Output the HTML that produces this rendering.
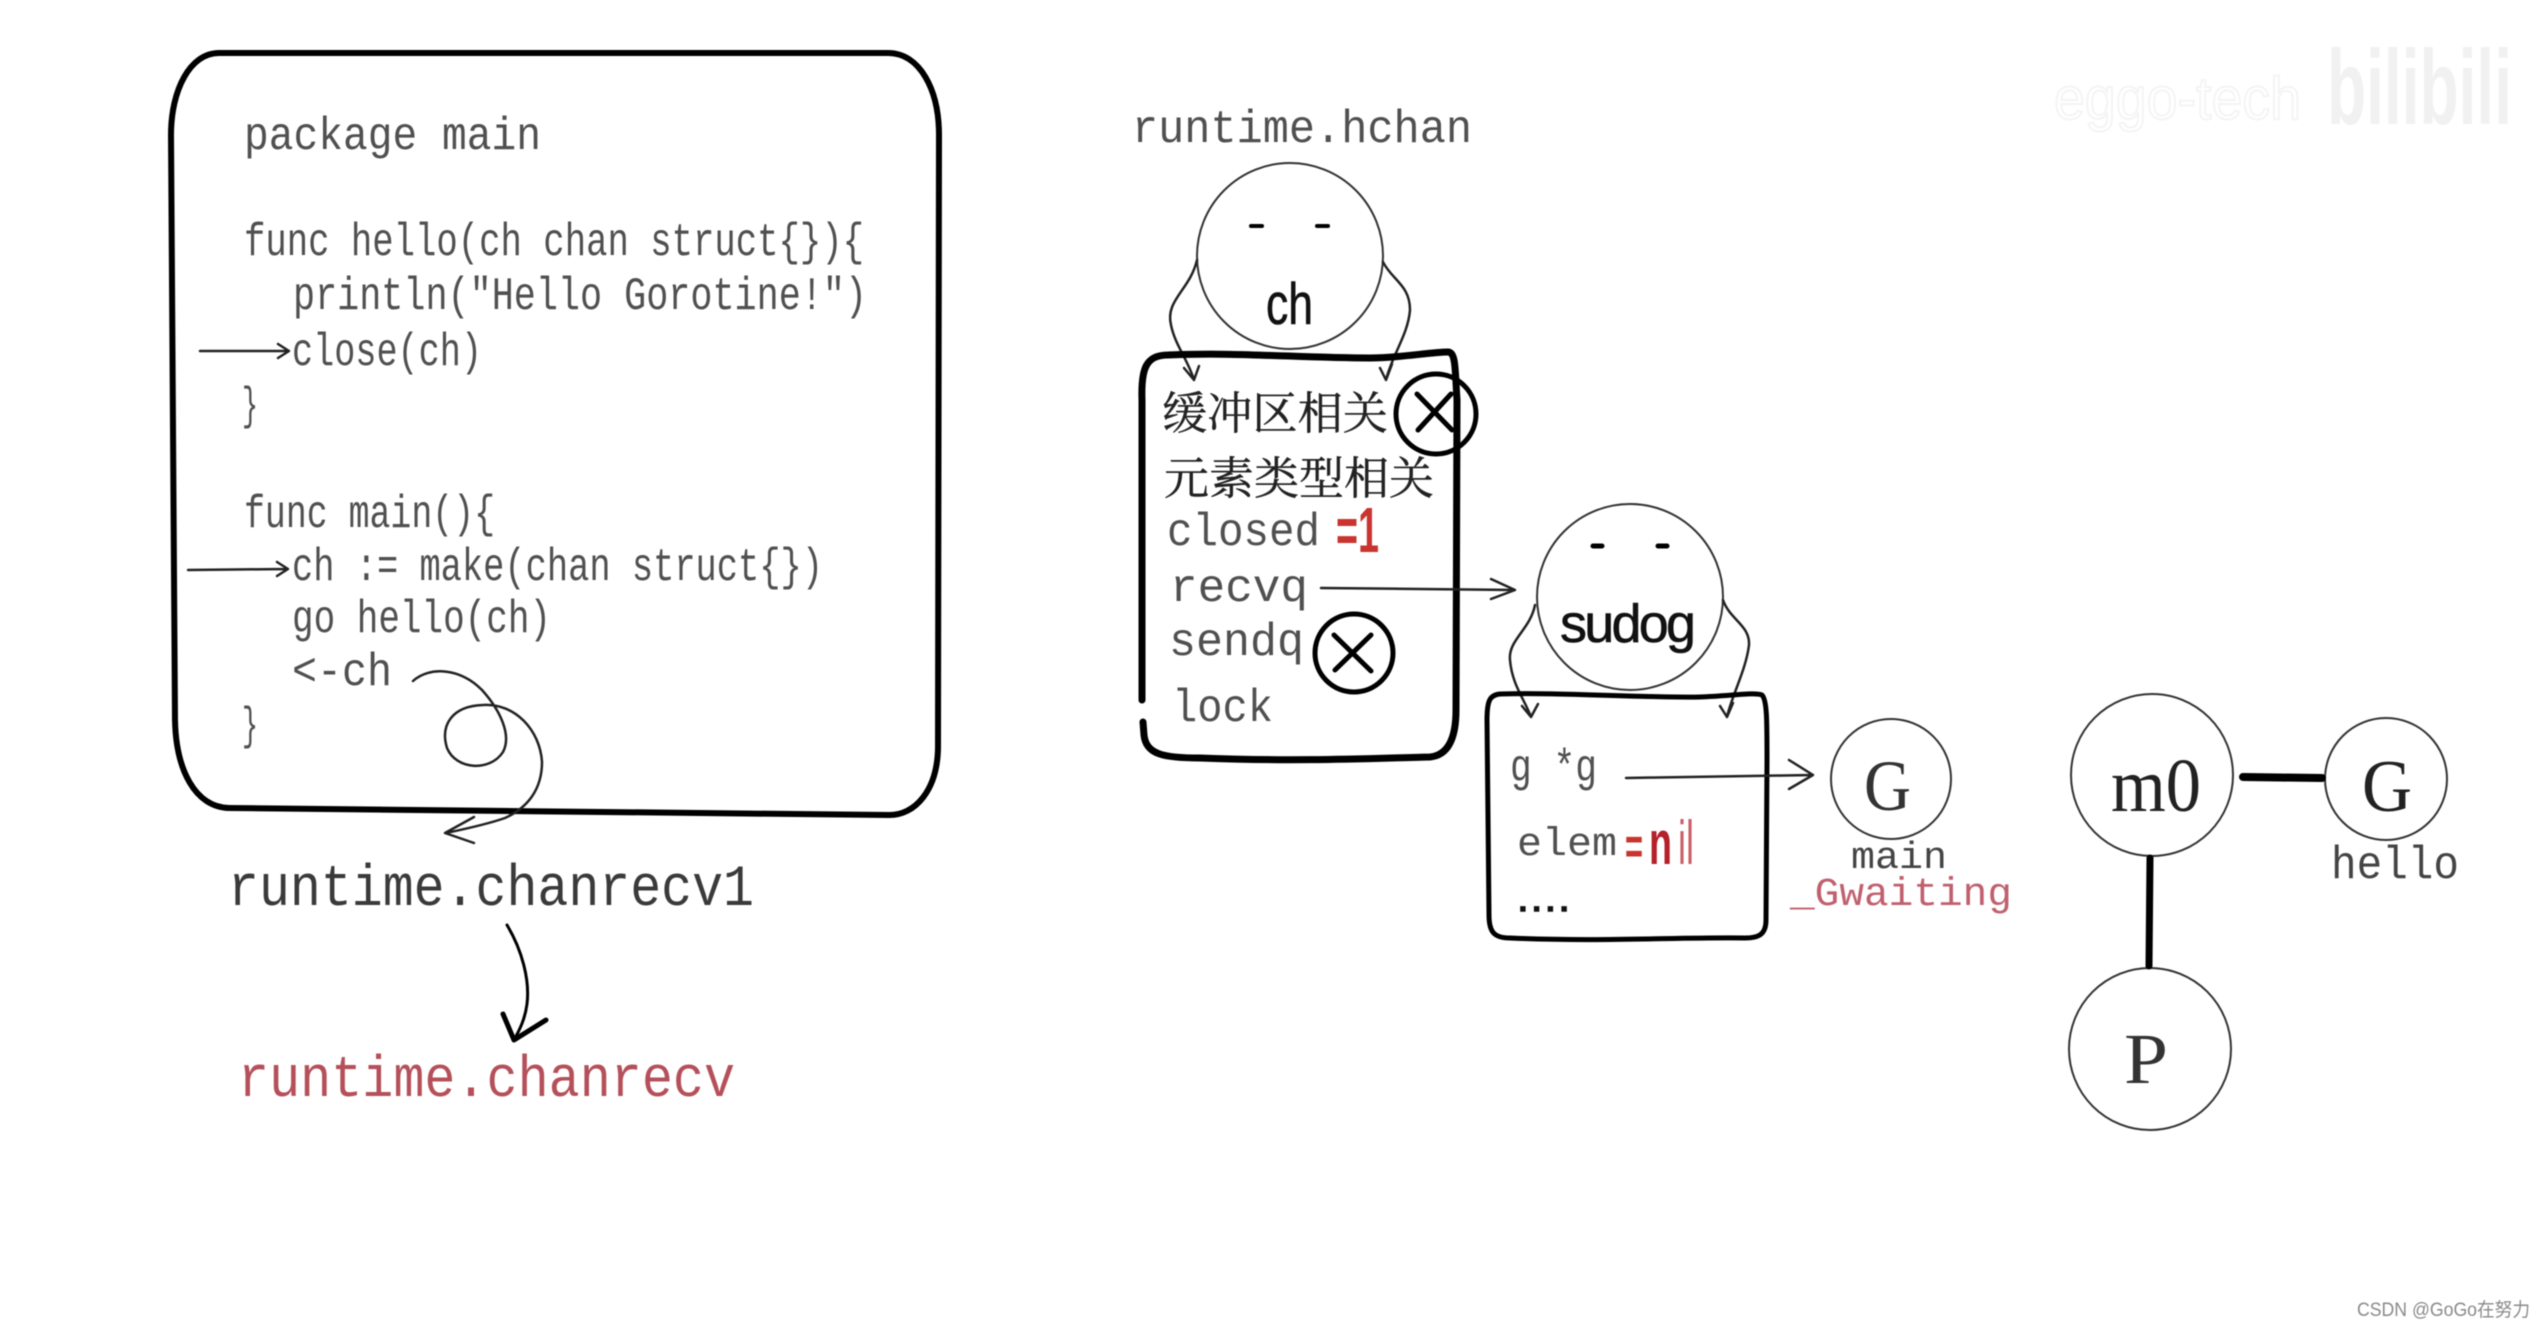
<!DOCTYPE html>
<html><head><meta charset="utf-8">
<style>
html,body{margin:0;padding:0;background:#fff;width:2543px;height:1328px;overflow:hidden}
svg{display:block;filter:blur(.5px)}
.m{font-family:"Liberation Mono",monospace;font-size:46px;fill:#505050}
.b{font-family:"Liberation Mono",monospace;font-size:58px;fill:#3a3a3a}
.s{font-family:"Liberation Sans",sans-serif;font-size:58px;fill:#111;stroke:#111;stroke-width:.6}
.c{font-family:"Liberation Serif","Noto Serif CJK SC",serif;font-size:45px;fill:#222;stroke:#222;stroke-width:.4}
.l{fill:none;stroke:#222;stroke-width:2.5;stroke-linecap:round;stroke-linejoin:round}
.k{fill:none;stroke:#000;stroke-linecap:round;stroke-linejoin:round}
</style></head><body>
<svg width="2543" height="1328" viewBox="0 0 2543 1328" xmlns="http://www.w3.org/2000/svg">
<rect width="2543" height="1328" fill="#fff"/>

<!-- watermark -->
<text x="2054" y="119" textLength="247" lengthAdjust="spacingAndGlyphs" font-family="Liberation Sans,sans-serif" font-size="60" fill="none" stroke="#f4f4f4" stroke-width="2">eggo-tech</text>
<text x="2327" y="124" textLength="185" lengthAdjust="spacingAndGlyphs" font-family="Liberation Sans,sans-serif" font-weight="bold" font-size="106" fill="#f1f1f1">bilibili</text>

<!-- code box -->
<path class="k" stroke-width="6" d="M219,53 L888,53 C920,53 939,90 939,135 L938,746 C938,790 915,816 888,815 L229,808 C195,807 176,770 175,720 L171,135 C171,90 190,53 219,53 Z"/>
<text class="m" x="244" y="149" textLength="297" lengthAdjust="spacingAndGlyphs">package main</text>
<text class="m" x="244" y="255" textLength="620" lengthAdjust="spacingAndGlyphs">func hello(ch chan struct{}){</text>
<text class="m" x="293" y="309" textLength="574" lengthAdjust="spacingAndGlyphs">println("Hello Gorotine!")</text>
<text class="m" x="292" y="365" textLength="190" lengthAdjust="spacingAndGlyphs">close(ch)</text>
<text class="m" x="242" y="419" textLength="16" lengthAdjust="spacingAndGlyphs">}</text>
<text class="m" x="244" y="527" textLength="251" lengthAdjust="spacingAndGlyphs">func main(){</text>
<text class="m" x="292" y="580" textLength="531" lengthAdjust="spacingAndGlyphs">ch := make(chan struct{})</text>
<text class="m" x="292" y="632" textLength="259" lengthAdjust="spacingAndGlyphs">go hello(ch)</text>
<text class="m" x="292" y="685" textLength="100" lengthAdjust="spacingAndGlyphs">&lt;-ch</text>
<text class="m" x="242" y="739" textLength="16" lengthAdjust="spacingAndGlyphs">}</text>
<path class="l" d="M200,351 L288,351 M278,344 L289,351 L278,358"/>
<path class="l" d="M188,570 L287,569 M277,562 L288,569 L277,576"/>
<path class="l" stroke-width="3" d="M413,681 C430,666 460,668 482,690 C500,710 512,735 503,752 C490,772 456,770 447,748 C440,725 452,706 483,705 C515,703 540,730 542,762 C542,790 527,808 505,818 C485,825 460,830 446,833 M474,817 L445,833 L474,843"/>

<!-- runtime labels -->
<text class="b" x="228" y="905" textLength="526" lengthAdjust="spacingAndGlyphs">runtime.chanrecv1</text>
<text class="b" x="238" y="1096" textLength="497" lengthAdjust="spacingAndGlyphs" style="fill:#b5505a">runtime.chanrecv</text>
<path class="k" stroke-width="3" d="M507,925 C522,950 530,980 527,1004 C525,1019 520,1029 514,1040"/>
<path class="k" stroke-width="5" d="M503,1014 L514,1040 L546,1020"/>

<!-- hchan -->
<text class="m" x="1132" y="142" textLength="340" lengthAdjust="spacingAndGlyphs">runtime.hchan</text>
<circle cx="1290" cy="256" r="93" fill="none" stroke="#333" stroke-width="2"/>
<path class="k" stroke-width="4" d="M1251,226 H1262 M1317,226 H1328"/>
<text class="s" x="1266" y="324" textLength="47" lengthAdjust="spacingAndGlyphs">ch</text>
<path class="l" d="M1197,260 C1190,290 1165,300 1171,325 C1175,345 1188,360 1194,380 M1184,368 L1194,380 L1199,366"/>
<path class="l" d="M1383,262 C1392,280 1410,285 1410,310 C1408,335 1392,355 1386,380 M1380,368 L1386,380 L1392,364"/>
<path class="k" stroke-width="7" d="M1168,355 C1240,352 1300,358 1370,358 C1400,358 1430,352 1448,352 C1456,352 1455,370 1457,400 L1456,710 C1456,735 1450,755 1430,757 C1380,758 1300,762 1200,758 C1165,758 1146,755 1144,735 L1143,722 M1142,700 L1142,400 C1141,370 1145,355 1168,355"/>
<text class="c" x="1162" y="429" textLength="226" lengthAdjust="spacingAndGlyphs">缓冲区相关</text>
<text class="c" x="1164" y="494" textLength="270" lengthAdjust="spacingAndGlyphs">元素类型相关</text>
<circle cx="1436" cy="414" r="40" fill="none" stroke="#000" stroke-width="5"/>
<path class="k" stroke-width="5" d="M1417,394 L1452,430 M1451,394 L1418,430"/>
<text class="m" x="1167" y="545" textLength="153" lengthAdjust="spacingAndGlyphs">closed</text>
<text x="1336" y="552" textLength="43" lengthAdjust="spacingAndGlyphs" font-family="Liberation Sans,sans-serif" font-weight="bold" font-size="64" fill="#c9342f">=1</text>
<text class="m" x="1170" y="601" textLength="138" lengthAdjust="spacingAndGlyphs">recvq</text>
<path class="l" d="M1321,588 L1515,590 M1491,579 L1515,590 L1491,599"/>
<text class="m" x="1169" y="655" textLength="135" lengthAdjust="spacingAndGlyphs">sendq</text>
<circle cx="1354" cy="653" r="39" fill="none" stroke="#000" stroke-width="5"/>
<path class="k" stroke-width="5" d="M1334,635 L1371,671 M1371,635 L1335,670"/>
<text class="m" x="1172" y="721" textLength="101" lengthAdjust="spacingAndGlyphs">lock</text>

<!-- sudog -->
<circle cx="1630" cy="597" r="93" fill="none" stroke="#333" stroke-width="2"/>
<path class="k" stroke-width="5" d="M1593,546 H1602 M1658,546 H1667"/>
<text class="s" x="1560" y="642" textLength="136" lengthAdjust="spacing" style="font-size:54px">sudog</text>
<path class="l" d="M1535,605 C1530,630 1508,640 1510,660 C1512,685 1525,700 1531,717 M1522,706 L1531,717 L1538,704"/>
<path class="l" d="M1723,600 C1730,620 1750,625 1749,645 C1746,670 1732,695 1727,717 M1720,706 L1727,717 L1733,703"/>
<path class="k" stroke-width="5" d="M1500,694 C1560,692 1640,698 1700,697 C1730,696 1755,692 1762,695 C1767,700 1767,720 1767,760 L1766,920 C1766,935 1758,938 1745,938 C1680,937 1600,942 1510,938 C1494,938 1489,932 1489,915 L1487,720 C1487,700 1490,695 1500,694"/>
<text class="m" x="1510" y="781" textLength="87" lengthAdjust="spacingAndGlyphs">g *g</text>
<path class="l" d="M1626,778 L1813,775 M1789,760 L1813,775 L1789,789"/>
<text class="m" x="1517" y="855" textLength="100" lengthAdjust="spacingAndGlyphs" style="font-size:40px">elem</text>
<text x="1625" y="864" textLength="18" lengthAdjust="spacingAndGlyphs" font-family="Liberation Sans,sans-serif" font-weight="bold" font-size="52" fill="#c9342f">=</text>
<text x="1649" y="864" textLength="23" lengthAdjust="spacingAndGlyphs" font-family="Liberation Sans,sans-serif" font-weight="bold" font-size="62" fill="#b5202a">n</text>
<text x="1678" y="864" textLength="16" lengthAdjust="spacingAndGlyphs" font-family="Liberation Sans,sans-serif" font-size="62" fill="#c9606a">il</text>
<text x="1519" y="911" textLength="49" lengthAdjust="spacing" font-family="Liberation Sans,sans-serif" font-weight="bold" font-size="28" fill="#111" stroke="#111" stroke-width="1.5">....</text>

<!-- G main -->
<circle cx="1891" cy="779" r="60" fill="none" stroke="#333" stroke-width="2"/>
<text x="1864" y="810" textLength="47" lengthAdjust="spacingAndGlyphs" font-family="Liberation Serif,serif" font-size="72" fill="#333">G</text>
<text class="m" x="1851" y="868" textLength="96" lengthAdjust="spacingAndGlyphs" style="font-size:38px;fill:#444">main</text>
<text class="m" x="1790" y="905" textLength="222" lengthAdjust="spacingAndGlyphs" style="font-size:40px;fill:#c0606e">_Gwaiting</text>

<!-- GMP -->
<circle cx="2152" cy="775" r="81" fill="none" stroke="#333" stroke-width="2"/>
<text x="2111" y="811" textLength="90" lengthAdjust="spacingAndGlyphs" font-family="Liberation Serif,serif" font-size="76" fill="#222">m0</text>
<circle cx="2386" cy="779" r="61" fill="none" stroke="#333" stroke-width="2"/>
<text x="2362" y="811" textLength="50" lengthAdjust="spacingAndGlyphs" font-family="Liberation Serif,serif" font-size="74" fill="#222">G</text>
<text class="m" x="2331" y="878" textLength="128" lengthAdjust="spacingAndGlyphs" style="fill:#444">hello</text>
<circle cx="2150" cy="1049" r="81" fill="none" stroke="#333" stroke-width="2"/>
<text x="2124" y="1083" textLength="44" lengthAdjust="spacingAndGlyphs" font-family="Liberation Serif,serif" font-size="72" fill="#333">P</text>
<path class="k" stroke-width="8" d="M2243,777 L2322,778"/>
<path class="k" stroke-width="7" d="M2150,858 L2149,966"/>

<!-- footer -->
<text x="2357" y="1316" textLength="173" lengthAdjust="spacingAndGlyphs" font-family="Liberation Sans,Noto Sans CJK SC,sans-serif" font-size="19" fill="#8a8a8a">CSDN @GoGo在努力</text>
</svg>
</body></html>
